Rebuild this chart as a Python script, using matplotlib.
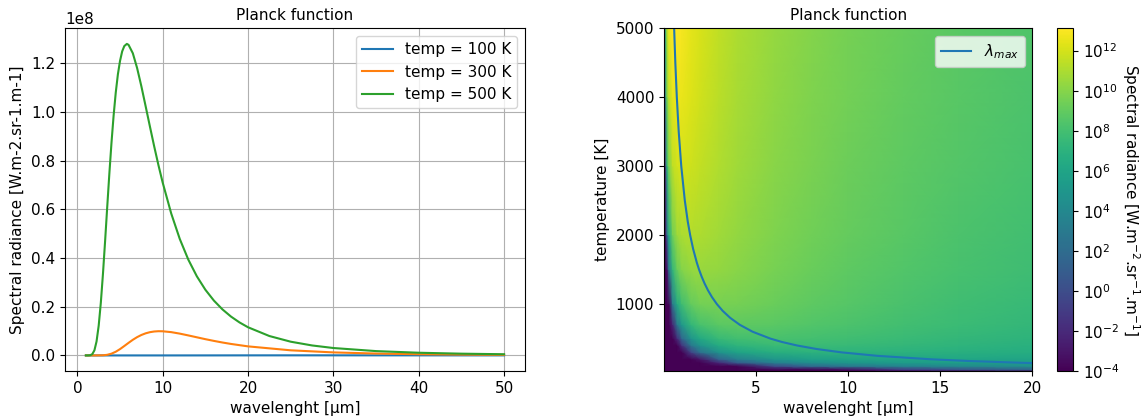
import numpy as np
import matplotlib.pyplot as plt
from matplotlib.colors import LogNorm

plt.rcParams['font.size'] = 11

# ---- left panel: spectral radiance (W.m-2.sr-1.m-1)
wl_500 = [1, 1.25, 1.5, 1.75, 2, 2.25, 2.5, 2.75, 3, 3.25, 3.5, 3.75, 4, 4.25, 4.5, 4.75,
          5, 5.25, 5.5, 5.8, 6, 6.5, 7, 7.5, 8, 8.5, 9, 9.5, 10, 11, 12, 13, 14, 15, 16,
          17, 18, 19, 20, 22.5, 25, 27.5, 30, 35, 40, 45, 50]
rad_500 = [38, 3922, 7.33e4, 5.24e5, 2.10e6, 5.76e6, 1.222e7, 2.161e7, 3.347e7, 4.69e7,
           6.10e7, 7.47e7, 8.74e7, 9.86e7, 1.080e8, 1.155e8, 1.210e8, 1.249e8, 1.271e8,
           1.280e8, 1.276e8, 1.2415e8, 1.181e8, 1.106e8, 1.024e8, 9.41e7, 8.595e7, 7.82e7,
           7.10e7, 5.83e7, 4.786e7, 3.937e7, 3.252e7, 2.699e7, 2.253e7, 1.892e7, 1.597e7,
           1.356e7, 1.157e7, 7.97e6, 5.64e6, 4.10e6, 3.045e6, 1.778e6, 1.104e6, 7.21e5,
           4.90e5]

wl_300 = [1, 2, 3, 3.5, 4, 4.5, 5, 5.5, 6, 6.5, 7, 7.5, 8, 8.5, 9, 9.5, 10, 11, 12, 13, 14,
          15, 16, 17, 18, 20, 25, 30, 35, 40, 45, 50]
rad_300 = [0, 143, 5.59e4, 2.54e5, 7.22e5, 1.518e6, 2.60e6, 3.87e6, 5.17e6, 6.42e6, 7.51e6,
           8.40e6, 9.08e6, 9.55e6, 9.83e6, 9.95e6, 9.92e6, 9.57e6, 8.96e6, 8.22e6, 7.45e6,
           6.68e6, 5.97e6, 5.31e6, 4.72e6, 3.72e6, 2.10e6, 1.242e6, 7.72e5, 5.02e5, 3.39e5,
           2.37e5]

wl_100 = [1, 5, 10, 15, 20, 25, 30, 35, 40, 45, 50]
rad_100 = [0, 0.012, 672, 1.071e4, 2.80e4, 3.87e4, 4.08e4, 3.78e4, 3.28e4, 2.75e4, 2.27e4]

# ---- right panel: log10 radiance
map_wl = [0.03, 0.1, 0.2, 0.3, 0.5, 0.75, 1, 1.5, 2, 3, 4, 6, 8, 10, 13, 16, 20]
map_temp = [30, 50, 100, 150, 200, 300, 400, 500, 700, 1000, 1500, 2000, 3000, 4000, 5000]
D = -6  # below the bottom of the colour scale (dark purple)
map_log_rad = [
    [D] * 17,
    [D] * 13 + [-3.42, -1.11, 0.24, 1.32],
    [D] * 11 + [-0.23, 1.75, 2.83, 3.70, 4.15, 4.45],
    [D] * 9 + [-2.20, 0.65, 3.24, 4.35, 4.91, 5.30, 5.45, 5.49],
    [D] * 8 + [-3.05, 1.28, 3.26, 4.98, 5.66, 5.95, 6.10, 6.11, 6.02],
    [D] * 7 + [-0.69, 2.16, 4.75, 5.86, 6.71, 6.96, 7.00, 6.91, 6.78, 6.57],
    [D] * 6 + [-1.55, 2.78, 4.76, 6.48, 7.16, 7.58, 7.61, 7.53, 7.33, 7.13, 6.87],
    [D] * 5 + [-1.96, 1.58, 4.86, 6.32, 7.52, 7.94, 8.11, 8.01, 7.85, 7.59, 7.35, 7.06],
    [D] * 4 + [-2.27, 2.80, 5.15, 7.25, 8.11, 8.72, 8.84, 8.71, 8.48, 8.24, 7.92, 7.64, 7.32],
    [D] * 4 + [3.08, 6.37, 7.83, 9.03, 9.45, 9.61, 9.52, 9.19, 8.86, 8.57, 8.20, 7.89, 7.55],
    [D] * 2 + [-3.26, 2.80, 7.25, 9.15, 9.91, 10.42, 10.49, 10.32, 10.07, 9.59, 9.20, 8.87,
               8.47, 8.14, 7.78],
    [D] * 2 + [1.95, 6.28, 9.33, 10.54, 10.95, 11.12, 11.02, 10.69, 10.36, 9.82, 9.40, 9.05,
               8.64, 8.30, 7.93],
    [D, -1.75, 7.16, 9.75, 11.42, 11.92, 12.00, 11.83, 11.57, 11.09, 10.70, 10.10, 9.65, 9.29,
     8.86, 8.51, 8.14],
    [D, 3.45, 9.76, 11.48, 12.46, 12.62, 12.53, 12.20, 11.87, 11.33, 10.90, 10.27, 9.81, 9.44,
     9.00, 8.65, 8.28],
    [D, 6.58, 11.32, 12.52, 13.08, 13.04, 12.85, 12.43, 12.06, 11.48, 11.04, 10.40, 9.92, 9.55,
     9.11, 8.76, 8.38],
]

# wavelength of maximum emission
lmax_temp = [5200, 5000, 4500, 4000, 3500, 3000, 2500, 2200, 2000, 1800, 1600, 1500, 1400,
             1300, 1200, 1100, 1000, 900, 800, 700, 600, 500, 450, 400, 350, 300, 250, 200,
             175, 150, 140]
lmax_wl = [0.557, 0.580, 0.644, 0.725, 0.828, 0.966, 1.159, 1.317, 1.449, 1.610, 1.811,
           1.932, 2.070, 2.229, 2.415, 2.635, 2.898, 3.220, 3.623, 4.140, 4.830, 5.796,
           6.440, 7.245, 8.280, 9.660, 11.59, 14.49, 16.56, 19.32, 20.70]

fig = plt.figure(figsize=(11.48, 4.17), dpi=100)

ax1 = fig.add_axes([0.0566, 0.1103, 0.4007, 0.8218])
ax1.plot(wl_100, rad_100, label='temp = 100 K')
ax1.plot(wl_300, rad_300, label='temp = 300 K')
ax1.plot(wl_500, rad_500, label='temp = 500 K')
ax1.grid(True)
ax1.legend(loc='upper right')
ax1.set_title('Planck function', fontsize=11)
ax1.set_xlabel('wavelenght [µm]')
ax1.set_ylabel('Spectral radiance [W.m-2.sr-1.m-1]')

ax2 = fig.add_axes([0.5784, 0.1103, 0.3208, 0.8218])
X, Y = np.meshgrid(map_wl, map_temp)
Z = 10.0 ** np.array(map_log_rad)
mesh = ax2.pcolormesh(X, Y, Z, shading='gouraud', cmap='viridis',
                      norm=LogNorm(vmin=1e-4, vmax=1.3e13))
ax2.plot(lmax_wl, lmax_temp, label=r'$\lambda_{max}$')
ax2.set_xlim(map_wl[0], map_wl[-1])
ax2.set_ylim(map_temp[0], map_temp[-1])
ax2.set_xticks([5, 10, 15, 20])
ax2.legend(loc='upper right')
ax2.set_title('Planck function', fontsize=11)
ax2.set_xlabel('wavelenght [µm]')
ax2.set_ylabel('temperature [K]')

cax = fig.add_axes([0.9203, 0.1103, 0.0146, 0.8218])
cb = fig.colorbar(mesh, cax=cax)
cb.set_ticks([10.0 ** k for k in range(-4, 13, 2)])
cb.ax.minorticks_off()
cb.set_label('Spectral radiance [W.m$^{-2}$.sr$^{-1}$.m$^{-1}$]', rotation=270, labelpad=16)

fig.savefig('out.png', dpi=100)
